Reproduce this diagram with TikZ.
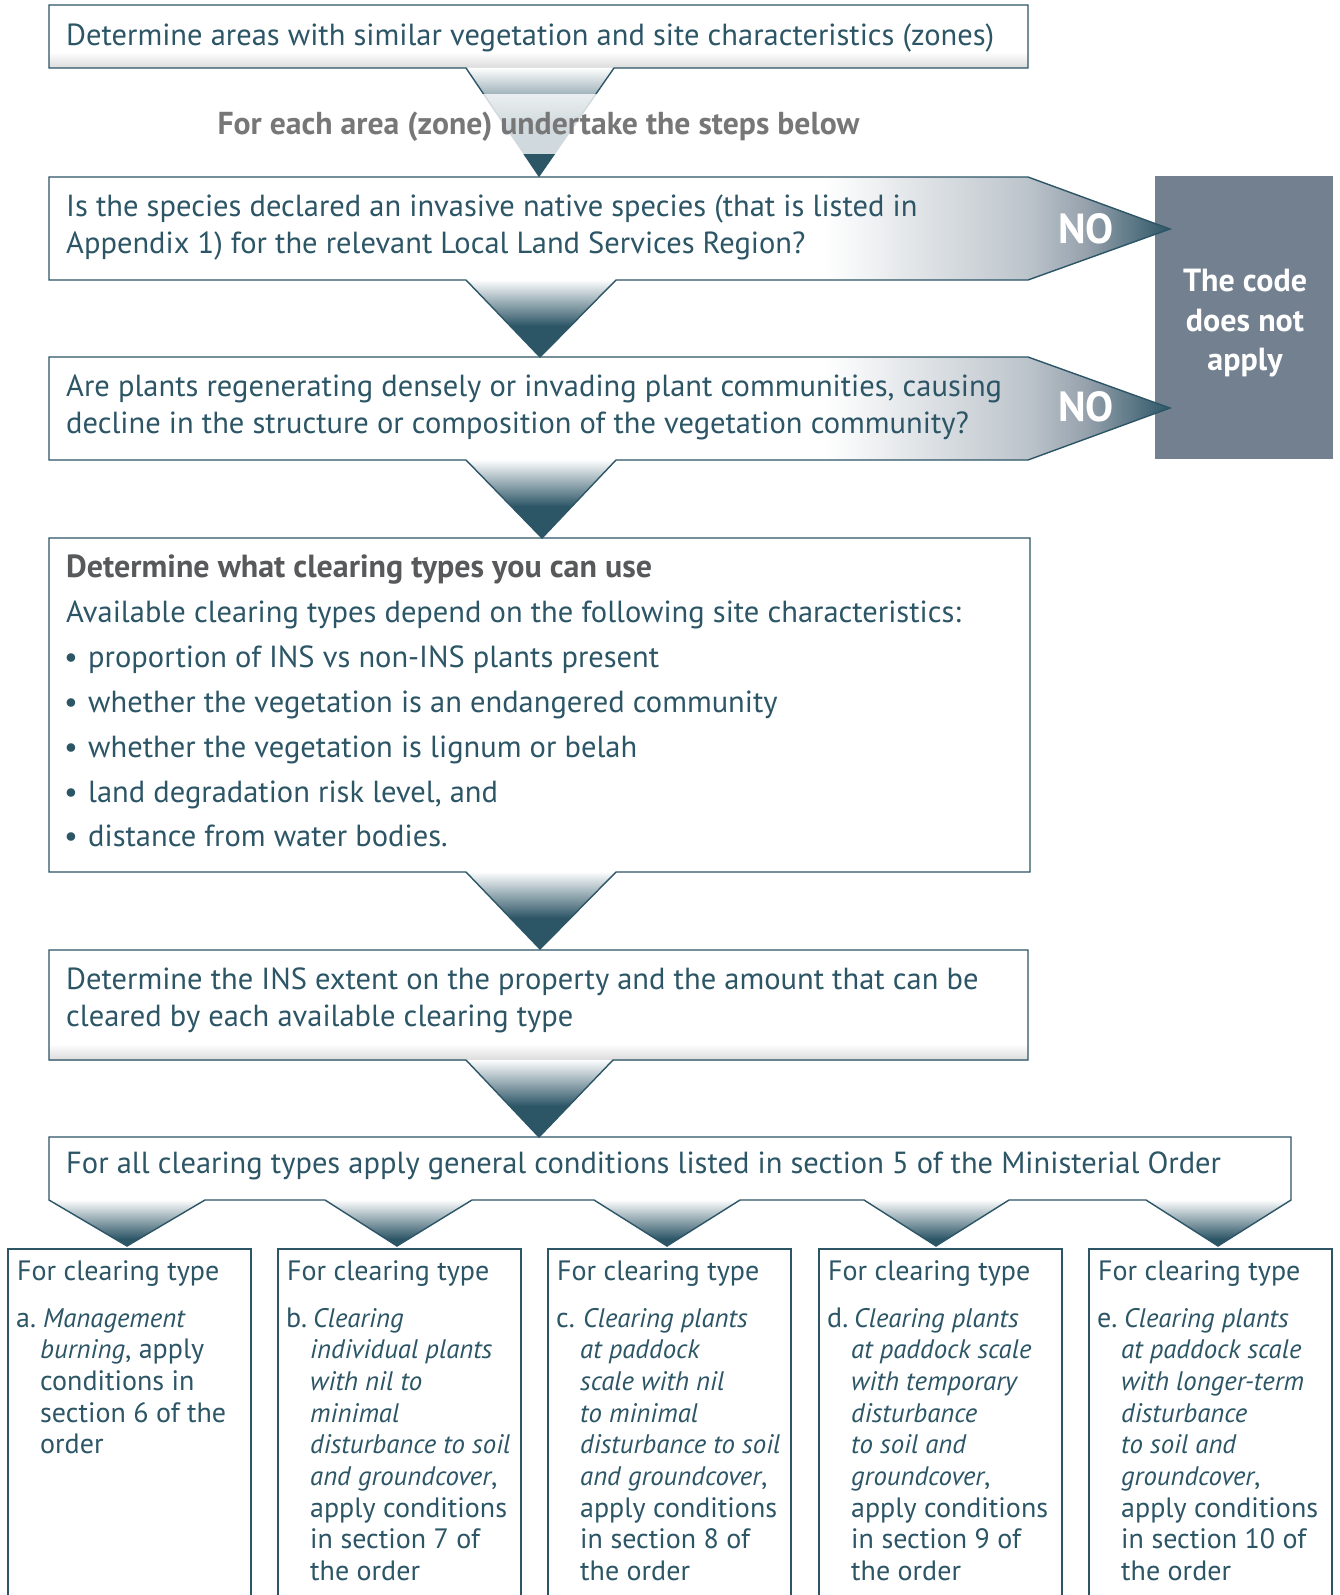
\documentclass[tikz,border=0pt]{standalone}
\usepackage{fontspec}
\setmainfont{PT Sans}
\usetikzlibrary{calc}
\definecolor{inkteal}{HTML}{2C5566}
\definecolor{greybox}{HTML}{72808F}
\definecolor{labelgrey}{HTML}{777777}
\definecolor{headgrey}{HTML}{58595B}
\definecolor{hgA}{HTML}{BCC4CB}
\definecolor{hgB}{HTML}{94A0AB}
\newcommand\ital[1]{{\fontsize{26.8}{30}\selectfont\itshape #1}}
\tikzset{
  boxline/.style={draw=inkteal, line width=1.4pt, line join=miter},
  colbox/.style={draw=inkteal, line width=2.6pt},
  maintext/.style={anchor=base west, inner sep=0pt, text=inkteal, font=\fontsize{30.5}{36}\selectfont},
  headtext/.style={anchor=base west, inner sep=0pt, text=headgrey, font=\fontsize{32}{36}\selectfont\bfseries},
  labeltext/.style={anchor=base, inner sep=0pt, text=labelgrey, font=\fontsize{31.7}{36}\selectfont\bfseries},
  notext/.style={anchor=base, inner sep=0pt, text=white, font=\fontsize{42}{44}\selectfont\bfseries},
  codetext/.style={anchor=base, inner sep=0pt, text=white, font=\fontsize{32}{36}\selectfont\bfseries},
  smalltext/.style={anchor=base west, inner sep=0pt, text=inkteal, font=\fontsize{28}{32}\selectfont},
}
% V-shaped gradient arrow: #1 xl, #2 xtip, #3 xr, #4 ybase, #5 ytip, #6 fraction where it becomes solid
\newcommand\gradV[6]{%
  \pgfmathsetmacro\vmid{#4+#6*(#5-#4)}%
  \begin{scope}
    \clip (#1,#4) -- (#2,#5) -- (#3,#4) -- cycle;
    \shade[top color=white, bottom color=inkteal] (#1,#4-0.5) rectangle (#3,\vmid);
    \fill[inkteal] (#1,\vmid-0.4) rectangle (#3,#5+1);
  \end{scope}}
% horizontal gradient for NO arrows: #1 ytop, #2 ybottom
\newcommand\gradH[2]{%
  \shade[left color=white, right color=hgA] (825,#1) rectangle (1028.5,#2);
  \shade[left color=hgA, right color=hgB] (1028,#1) rectangle (1088.5,#2);
  \shade[left color=hgB, right color=inkteal] (1088,#1) rectangle (1171,#2);}
\newcommand\linelist[6]{% #1 style, #2 x, #3 y0, #4 dy, #5 name prefix, #6 list
  \foreach \ln [count=\k from 0] in {#6} {\node[#1] (#5\k) at (#2,{#3+#4*\k}) {\ln};}}
\begin{document}
\begin{tikzpicture}[x=1pt,y=-1pt]
\useasboundingbox (0,0) rectangle (1339,1595);
\fill[white] (0,0) rectangle (1339,1595);

% ---------- Grey box (drawn first, the NO tips overlap it) ----------
\fill[greybox] (1155,176) rectangle (1333,459);
\node[codetext] (c1) at (1245,291) {The code};
\node[codetext] (c2) at (1245,331) {does not};
\node[codetext] (c3) at (1245,370) {apply};

% ---------- Box 1 ----------
\shade[top color=white, bottom color=black!14] (49,52) rectangle (1028,68);
\gradV{466}{539}{614}{68}{176}{0.55}
\draw[boxline] (49,5) -- (1028,5) -- (1028,68) -- (614,68) -- (539,176) -- (466,68) -- (49,68) -- cycle;
\node[maintext] (t1) at (66,46) {Determine areas with similar vegetation and site characteristics (zones)};
\fill[white, opacity=0.78] (150,94) rectangle (930,154);
\node[labeltext] (lbl) at (538.5,134) {For each area (zone) undertake the steps below};

% ---------- Box 2 ----------
\begin{scope}
  \clip (49,177) -- (1028,177) -- (1170,229) -- (1028,280) -- (49,280) -- cycle;
  \gradH{170}{290}
\end{scope}
\gradV{466}{540}{616}{280}{357}{0.6}
\draw[boxline] (49,177) -- (1028,177) -- (1170,229) -- (1028,280) -- (616,280) -- (540,357) -- (466,280) -- (49,280) -- cycle;
\node[maintext] (t2a) at (66,216) {Is the species declared an invasive native species (that is listed in};
\node[maintext] (t2b) at (66,253) {Appendix 1) for the relevant Local Land Services Region?};
\node[notext] (no1) at (1086,243) {NO};

% ---------- Box 3 ----------
\begin{scope}
  \clip (49,357) -- (1028,357) -- (1170,408) -- (1028,460) -- (49,460) -- cycle;
  \gradH{350}{470}
\end{scope}
\gradV{466}{542}{616}{460}{538}{0.6}
\draw[boxline] (49,357) -- (1028,357) -- (1170,408) -- (1028,460) -- (616,460) -- (542,538) -- (466,460) -- (49,460) -- cycle;
\node[maintext] (t3a) at (66,396) {Are plants regenerating densely or invading plant communities, causing};
\node[maintext] (t3b) at (66,433) {decline in the structure or composition of the vegetation community?};
\node[notext] (no2) at (1086,421) {NO};

% ---------- Box 4 ----------
\gradV{466}{540}{616}{872}{949}{0.6}
\draw[boxline] (49,538) -- (1030,538) -- (1030,872) -- (616,872) -- (540,949) -- (466,872) -- (49,872) -- cycle;
\node[headtext] (h4) at (66,577) {Determine what clearing types you can use};
\node[maintext] (t4) at (66,622) {Available clearing types depend on the following site characteristics:};
\foreach \y/\txt [count=\i] in {667/{proportion of INS vs non-INS plants present},
  712/{whether the vegetation is an endangered community},
  757/{whether the vegetation is lignum or belah},
  802/{land degradation risk level, and},
  846/{distance from water bodies.}} {
  \node[maintext] (bul\i) at (64,\y) {•};
  \node[maintext] (b\i) at (88,\y) {\txt};
}

% ---------- Box 5 ----------
\shade[top color=white, bottom color=black!14] (49,1044) rectangle (1028,1060);
\gradV{466}{539}{613}{1060}{1137}{0.6}
\draw[boxline] (49,950) -- (1028,950) -- (1028,1060) -- (613,1060) -- (539,1137) -- (466,1060) -- (49,1060) -- cycle;
\node[maintext] (t5a) at (66,989) {Determine the INS extent on the property and the amount that can be};
\node[maintext] (t5b) at (66,1026) {cleared by each available clearing type};

% ---------- Box 6 ----------
\gradV{49}{127}{205}{1200}{1246}{0.85}
\gradV{325}{397}{472}{1200}{1246}{0.85}
\gradV{594}{667}{740}{1200}{1246}{0.85}
\gradV{864}{936}{1009}{1200}{1246}{0.85}
\gradV{1146}{1218}{1291}{1200}{1246}{0.85}
\draw[boxline] (49,1137) -- (1291,1137) -- (1291,1200) -- (1218,1246) -- (1146,1200) -- (1009,1200)
  -- (936,1246) -- (864,1200) -- (740,1200) -- (667,1246) -- (594,1200) -- (472,1200)
  -- (397,1246) -- (325,1200) -- (205,1200) -- (127,1246) -- (49,1200) -- cycle;
\node[maintext] (t6) at (66,1173) {For all clearing types apply general conditions listed in section 5 of the Ministerial Order};

% ---------- Bottom boxes ----------
\begin{scope}
\clip (0,0) rectangle (1339,1595);
\foreach \xl in {8,278,548,819,1089} {
  \draw[colbox] (\xl,1610) -- (\xl,1249) -- (\xl+243,1249) -- (\xl+243,1610);
}
\end{scope}
\foreach \xl/\nm in {8/A,278/B,548/C,819/D,1089/E} {
  \node[smalltext] (hd\nm) at (\xl+9,1280) {For clearing type};
}
\node[smalltext] (la) at (16,1327) {a.};
\linelist{smalltext}{40}{1327}{31.7}{A}{{\hspace{3pt}\ital{Management}},{\ital{burning}, apply},{conditions in},{section 6 of the},{order}}
\node[smalltext] (lb) at (286,1327) {b.};
\linelist{smalltext}{310}{1327}{31.7}{B}{{\hspace{3pt}\ital{Clearing}},{\ital{individual plants}},{\ital{with nil to}},{\ital{minimal}},{\ital{disturbance to soil}},{\ital{and groundcover},},{apply conditions},{in section 7 of},{the order}}
\node[smalltext] (lc) at (556,1327) {c.};
\linelist{smalltext}{580}{1327}{31.7}{C}{{\hspace{3pt}\ital{Clearing plants}},{\ital{at paddock}},{\ital{scale with nil}},{\ital{to minimal}},{\ital{disturbance to soil}},{\ital{and groundcover},},{apply conditions},{in section 8 of},{the order}}
\node[smalltext] (ld) at (827,1327) {d.};
\linelist{smalltext}{851}{1327}{31.7}{D}{{\hspace{3pt}\ital{Clearing plants}},{\ital{at paddock scale}},{\ital{with temporary}},{\ital{disturbance}},{\ital{to soil and}},{\ital{groundcover},},{apply conditions},{in section 9 of},{the order}}
\node[smalltext] (le) at (1097,1327) {e.};
\linelist{smalltext}{1121}{1327}{31.7}{E}{{\hspace{3pt}\ital{Clearing plants}},{\ital{at paddock scale}},{\ital{with longer-term}},{\ital{disturbance}},{\ital{to soil and}},{\ital{groundcover},},{apply conditions},{in section 10 of},{the order}}
\end{tikzpicture}
\end{document}
